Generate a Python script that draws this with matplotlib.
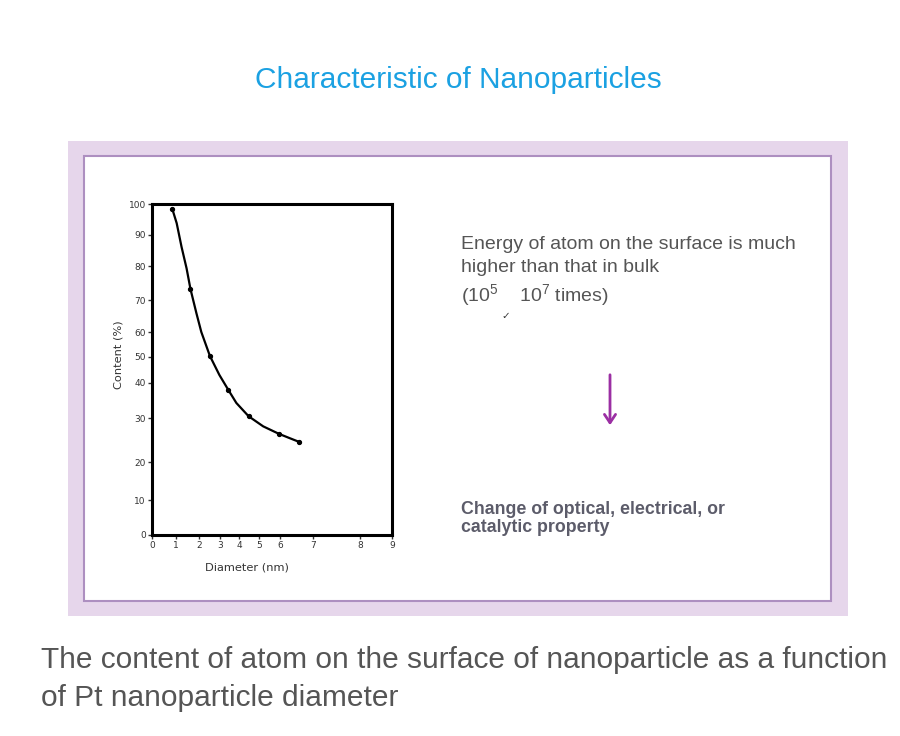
import numpy as np
import matplotlib
matplotlib.use('Agg')
import matplotlib.pyplot as plt
from matplotlib.patches import Rectangle, FancyArrowPatch

# Datos
diameter = [0.85, 1.03, 1.24, 1.46, 1.63, 1.89, 2.11, 2.52, 2.97, 3.43, 3.86, 4.48, 5.2, 5.95, 6.3, 6.57]
content = [98.3, 93.8, 86.2, 79.3, 73.2, 65.8, 60.0, 50.4, 43.1, 38.1, 34.3, 30.5, 28.1, 26.4, 25.4, 24.6]
marked_d = [0.85, 1.63, 2.52, 3.43, 4.48, 5.95, 6.57]
marked_c = [98.3, 73.2, 50.4, 38.1, 30.5, 26.4, 24.6]

x_ticks = [0, 1, 2, 3, 4, 5, 6, 7, 8, 9]
y_ticks = [0, 10, 20, 30, 40, 50, 60, 70, 80, 90, 100]

# Escala no lineal de la figura original (posicion relativa de cada marca)
x_axis_pos = [0, 24, 47, 68, 87, 107, 128, 161, 208, 240]
y_axis_pos = [0, 35, 73, 117, 152, 178, 203, 235, 269, 300, 331]

title = 'Characteristic of Nanoparticles'
caption = ['The content of atom on the surface of nanoparticle as a function',
           'of Pt nanoparticle diameter']

W, H = 900, 736
fig = plt.figure(figsize=(9, 7.36), dpi=100)
fig.patch.set_facecolor('white')

def fx(px):
    return px / W

def fy(py):
    return 1 - py / H

# Marco morado
fig.patches.append(Rectangle((fx(68), fy(616)), (848 - 68) / W, (616 - 141) / H,
                             transform=fig.transFigure, facecolor='#e6d6eb', edgecolor='none', zorder=0))
fig.patches.append(Rectangle((fx(84), fy(601)), (831 - 84) / W, (601 - 156) / H,
                             transform=fig.transFigure, facecolor='white', edgecolor='#ad8fc0',
                             linewidth=1.5, zorder=1))

fig.text(fx(458), fy(80), title, color='#1ba1e2', fontsize=21.5, ha='center', va='center',
         family='Liberation Sans')

ax = fig.add_axes([fx(152), fy(535), 240 / W, 331 / H])
ax.set_zorder(2)

ax.set_xscale('function', functions=(lambda v: np.interp(v, x_ticks, x_axis_pos),
                                     lambda v: np.interp(v, x_axis_pos, x_ticks)))
ax.set_yscale('function', functions=(lambda v: np.interp(v, y_ticks, y_axis_pos),
                                     lambda v: np.interp(v, y_axis_pos, y_ticks)))

ax.plot(diameter, content, color='black', linewidth=1.6)
ax.plot(marked_d, marked_c, 'o', color='black', markersize=2.8)

ax.set_xlim(0, 9)
ax.set_ylim(0, 100)
ax.set_xticks(x_ticks)
ax.set_yticks(y_ticks)
ax.tick_params(labelsize=6.5, length=3, width=1, colors='#333333', pad=1.5)
ax.minorticks_off()
for s in ax.spines.values():
    s.set_linewidth(2.2)
ax.set_xlabel('Diameter (nm)', fontsize=8.2, color='#333333')
ax.set_ylabel('Content (%)', fontsize=8.2, color='#333333')
ax.xaxis.set_label_coords(0.396, -0.082)
ax.yaxis.set_label_coords(-0.12, 0.544)

# Texto de la derecha
txt_color = '#555555'
fig.text(fx(461), fy(245), 'Energy of atom on the surface is much', color=txt_color,
         fontsize=14, va='center', family='Liberation Sans')
fig.text(fx(461), fy(267), 'higher than that in bulk', color=txt_color,
         fontsize=14, va='center', family='Liberation Sans')
fig.text(fx(461), fy(296), r'(10$^{\mathregular{5}}$    10$^{\mathregular{7}}$ times)', color=txt_color,
         fontsize=14, va='center', family='Liberation Sans')
fig.text(fx(506), fy(316), '\u2713', color='#333333', fontsize=7.5, ha='center', va='center',
         family='DejaVu Sans')

fig.patches.append(FancyArrowPatch((fx(610), fy(372)), (fx(610), fy(428)),
                                   transform=fig.transFigure, arrowstyle='->,head_length=6,head_width=4',
                                   color='#9b2fa3', linewidth=2, zorder=3))

fig.text(fx(461), fy(509), 'Change of optical, electrical, or', color='#5c5c6a',
         fontsize=12.8, fontweight='bold', va='center', family='Liberation Sans')
fig.text(fx(461), fy(528), 'catalytic property', color='#5c5c6a',
         fontsize=12.8, fontweight='bold', va='center', family='Liberation Sans')

fig.text(fx(41), fy(660), caption[0], color='#555555', fontsize=21.5, va='center',
         family='Liberation Sans')
fig.text(fx(41), fy(698), caption[1], color='#555555', fontsize=21.5, va='center',
         family='Liberation Sans')

fig.savefig('out.png', dpi=100)
